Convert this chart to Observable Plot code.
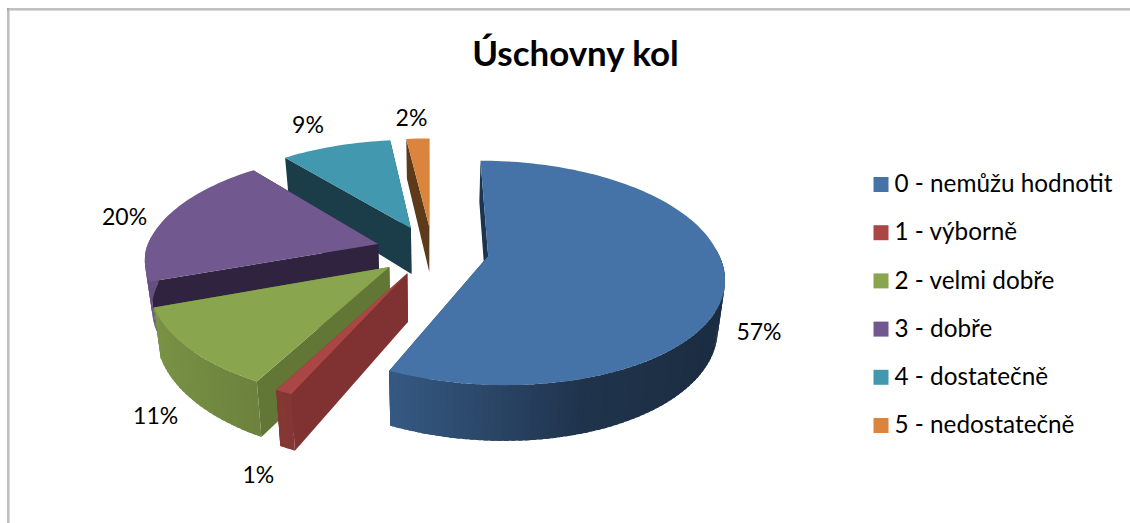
<!DOCTYPE html>
<html><head><meta charset="utf-8">
<style>html,body{margin:0;padding:0;background:#fff}svg{display:block}</style>
<script src="https://cdn.jsdelivr.net/npm/d3@7"></script>
<script src="https://cdn.jsdelivr.net/npm/@observablehq/plot@0.6"></script>
</head><body><div id="chart"></div>
<script>
const title = "Úschovny kol";
const categories = ["0 - nemůžu hodnotit","1 - výborně","2 - velmi dobře","3 - dobře","4 - dostatečně","5 - nedostatečně"];
const values = [57,1,11.49,19.61,9,1.9];
const topColors = ["#4572A7","#AA4643","#89A54E","#71588F","#4198AF","#DB843D"];
const faceColors = ["#1c3450","#7f3231","#627735","#2f2340","#1b3c49","#5c3a1a"];
const drawOrder = [5,4,3,2,1,0];

// 3-D pie projection
const C = {x:432, y:250, rx:229.5, ry:108, k:.15, explodeX:.245, explodeY:.23, depth:47, floor:.975, skew:7.5, left:1.012};
const project = (X,Y,d=0) => {
  const s = 1/(1 - C.k*Y);
  const f = (d>0 ? C.floor : 1)*(X<0 ? C.left : 1);
  return {x:C.x + f*C.rx*X*s + C.skew*Math.max(0,Y), y:C.y + C.ry*Y*s + d*s};
};
const total = d3.sum(values);
let cum = 0;
const slices = values.map((v,i)=>{
  const a0 = cum/total*360; cum += v; const a1 = cum/total*360;
  const m = (a0+a1)/2*Math.PI/180;
  return {i,v,a0,a1,m,ex:C.explodeX*Math.sin(m),ey:-C.explodeY*Math.cos(m)};
});
const rim = (s,a,d=0)=>{const t=a*Math.PI/180;return project(s.ex+Math.sin(t),s.ey-Math.cos(t),d);};
const hub = (s,d=0)=>project(s.ex,s.ey,d);
const mix = (hex,f)=>{const c=d3.rgb(hex);return d3.rgb(c.r*f,c.g*f,c.b*f).formatHex();};
const shade = d3.scaleLinear().domain([-1,-.4,.3,1]).range([.9,.77,.45,.38]).clamp(true);

const polys = []; let pid=0;
const add=(pts,fill)=>{pid++;pts.forEach(p=>polys.push({x:p.x,y:p.y,poly:pid,fill}));};
const step=1.5;
for(const i of drawOrder){
  const s=slices[i];
  // radial walls first, only the outer wall facing the viewer next, the top last
  add([hub(s),rim(s,s.a1),rim(s,s.a1,C.depth),hub(s,C.depth)],faceColors[i]);
  add([hub(s),rim(s,s.a0),rim(s,s.a0,C.depth),hub(s,C.depth)],faceColors[i]);
  const from=Math.max(s.a0,86), to=Math.min(s.a1,274);
  for(let a=from;a<to;a+=step){
    const b=Math.min(a+step,to), b2=Math.min(a+step*1.6,to);
    const sh=shade(Math.sin((a+b)/2*Math.PI/180));
    add([rim(s,a),rim(s,b2),rim(s,b2,C.depth),rim(s,a,C.depth)],mix(topColors[i],sh));
  }
  const pts=[hub(s)];
  for(let a=s.a0;a<s.a1;a+=step)pts.push(rim(s,a));
  pts.push(rim(s,s.a1));
  add(pts,topColors[i]);
}
// percent labels sit just outside the rim of their slice
const labelNudge=[[-3,0],[-3,14],[1,6],[-12,5],[-18,-10],[-5,-9]];
const labels=slices.map(s=>{
  const R=1.15, X=s.ex+R*Math.sin(s.m), Y=s.ey-R*Math.cos(s.m);
  const q=project(X,Y,0);
  const down=Y>0?48:0;
  return {x:q.x+labelNudge[s.i][0],y:q.y+down+labelNudge[s.i][1],text:Math.round(s.v)+"%"};
});
const legend=categories.map((c,i)=>({c,i,y:184+i*48.2,color:topColors[i]}));
const font="Lato, Carlito, sans-serif";

const plot=Plot.plot({
  width:1130,height:523,margin:0,
  x:{domain:[0,1130],range:[0,1130],axis:null},
  y:{domain:[0,523],range:[0,523],axis:null},
  color:{type:"identity"},
  style:{fontFamily:font,background:"#fff"},
  marks:[
    Plot.ruleY([8.5],{x1:7,x2:1130,stroke:"#868686",strokeWidth:1}),
    Plot.ruleY([9.5],{x1:7,x2:1130,stroke:"#b8b8b8",strokeWidth:1}),
    Plot.ruleX([7.5],{y1:8,y2:523,stroke:"#868686",strokeWidth:1}),
    Plot.ruleX([8.5],{y1:9,y2:523,stroke:"#b8b8b8",strokeWidth:1}),
    Plot.line(polys,{x:"x",y:"y",z:"poly",fill:"fill",stroke:"none",curve:"linear"}),
    Plot.text(labels,{x:"x",y:"y",text:"text",fontSize:23,fill:"#000"}),
    Plot.text([title],{x:[575],y:[54],text:d=>d,fontSize:34.9,fontWeight:"bold",fill:"#000"}),
    Plot.dot(legend,{x:()=>880.5,y:"y",symbol:"square",r:8.46,fill:"color",stroke:"none"}),
    Plot.text(legend,{x:()=>894,y:"y",text:"c",textAnchor:"start",fontSize:24.3,fill:"#000"})
  ]
});
document.getElementById("chart").appendChild(plot);
</script></body></html>
